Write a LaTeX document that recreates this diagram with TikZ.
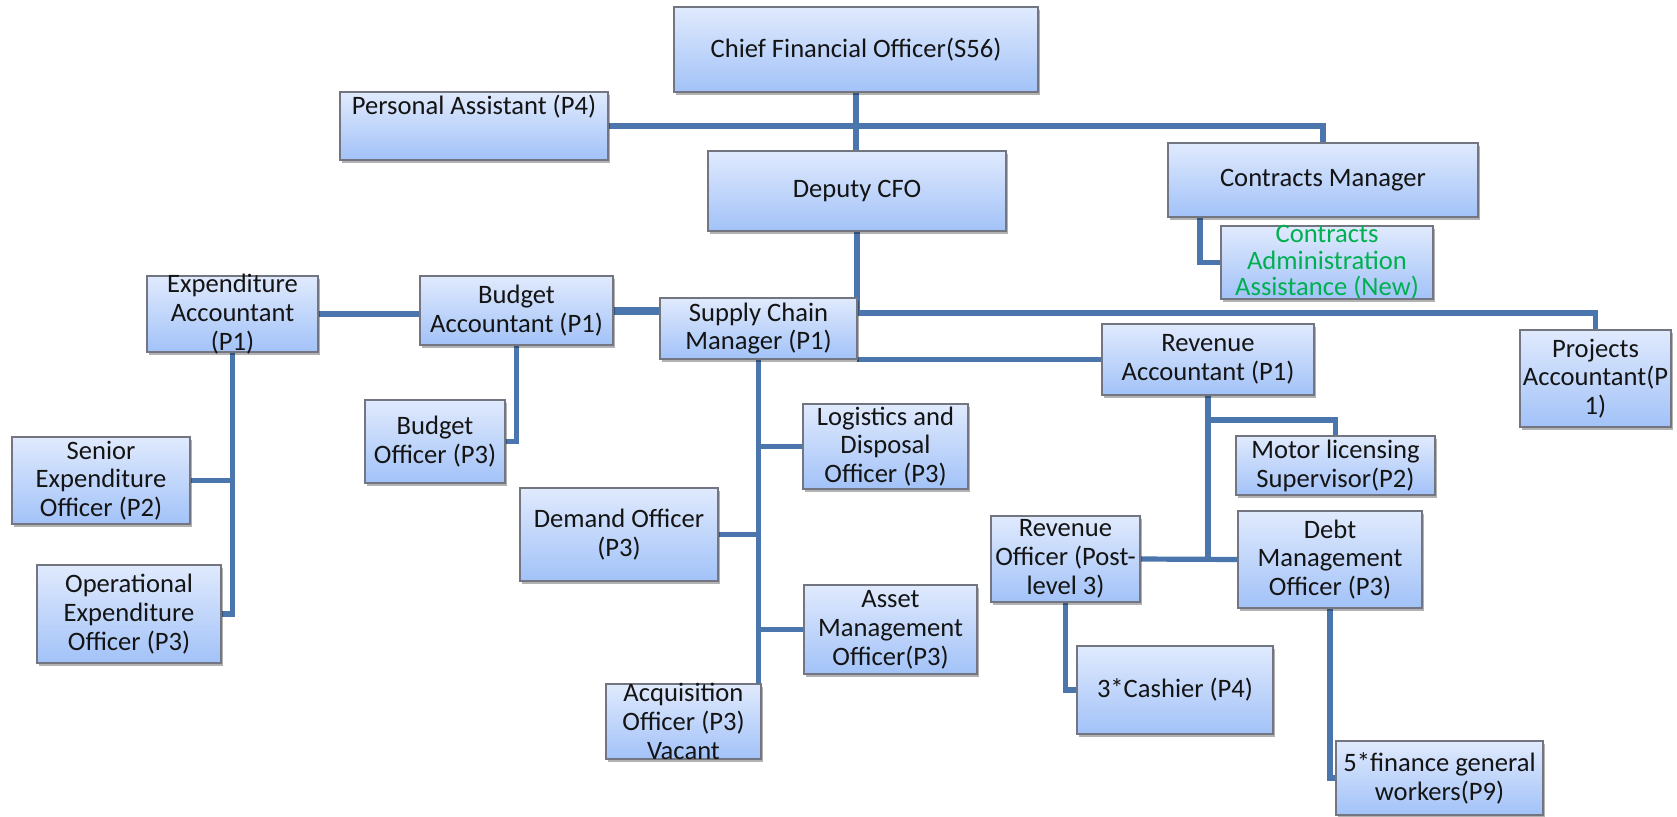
\documentclass[tikz,border=0pt]{standalone}
\usepackage{fontspec}
\setmainfont{Carlito}
\usetikzlibrary{shadows}
\definecolor{connc}{RGB}{74,118,173}
\definecolor{boxtop}{RGB}{224,234,253}
\definecolor{boxbot}{RGB}{162,194,248}
\definecolor{boxline}{RGB}{115,118,128}
\definecolor{newgreen}{RGB}{0,176,80}
\pgfdeclarelayer{background}
\pgfsetlayers{background,main}
\tikzset{
  box/.style={draw=boxline, line width=0.7pt, top color=boxtop, bottom color=boxbot,
    inner sep=0pt, outer sep=0pt,
    drop shadow={shadow xshift=1.2pt, shadow yshift=-1.5pt, fill=black, opacity=0.3}},
  txt/.style={align=center, inner sep=0pt, font=\fontsize{13.3}{14.4}\selectfont, text=black!92},
  conn/.style={draw=connc, line width=2.6pt},
  thickconn/.style={draw=connc, line width=4pt},
}
% name, x1, y1, x2, y2, text
\newcommand\orgbox[6]{%
  \node[box, minimum width={(#4-#2)*0.5pt}, minimum height={(#5-#3)*0.5pt}]
    (#1) at ({(#2+#4)/2},{(#3+#5)/2}) {};
  \node[txt] (#1t) at (#1.center) {#6};}
\begin{document}
\begin{tikzpicture}[x=0.5pt, y=-0.5pt]
\useasboundingbox (0,0) rectangle (1677,816);

\orgbox{cfo}{674}{7}{1038}{92}{Chief Financial Officer(S56)}
\node[box, minimum width={(608-340)*0.5pt}, minimum height={(160-92)*0.5pt}] (pa) at (474,126) {};
\node[txt, anchor=center] (pat) at (474,107) {Personal Assistant (P4)};
\orgbox{dep}{708}{151}{1006}{231}{Deputy CFO}
\orgbox{cm}{1168}{143}{1478}{217}{Contracts Manager}
\node[box, minimum width={(1433-1221)*0.5pt}, minimum height={(299-226)*0.5pt}] (ca) at (1327,262.5) {};
\node[txt, font=\fontsize{13.3}{13.3}\selectfont, text=newgreen] (cat) at (ca.center) {Contracts\\Administration\\Assistance (New)};
\orgbox{ea}{147}{276}{318}{352}{Expenditure\\Accountant\\(P1)}
\orgbox{ba}{420}{276}{613}{345}{Budget\\Accountant (P1)}
\orgbox{scm}{660}{298}{857}{359}{Supply Chain\\Manager (P1)}
\orgbox{ra}{1102}{324}{1314}{395}{Revenue\\Accountant (P1)}
\orgbox{pj}{1520}{330}{1671}{427}{Projects\\Accountant(P\\1)}
\orgbox{se}{12}{437}{190}{524}{Senior\\Expenditure\\Officer (P2)}
\orgbox{bo}{365}{400}{505}{483}{Budget\\Officer (P3)}
\orgbox{lg}{803}{404}{968}{489}{Logistics and\\Disposal\\Officer (P3)}
\orgbox{ml}{1236}{436}{1435}{495}{Motor licensing\\Supervisor(P2)}
\orgbox{dm}{520}{488}{718}{581}{Demand Officer\\(P3)}
\orgbox{ro}{991}{516}{1140}{602}{Revenue\\Officer (Post-\\level 3)}
\orgbox{dt}{1238}{511}{1422}{608}{Debt\\Management\\Officer (P3)}
\orgbox{oe}{37}{565}{221}{663}{Operational\\Expenditure\\Officer (P3)}
\orgbox{as}{804}{585}{977}{674}{Asset\\Management\\Officer(P3)}
\orgbox{cs}{1077}{646}{1273}{734}{3*Cashier (P4)}
\orgbox{acq}{606}{684}{761}{759}{Acquisition\\Officer (P3)\\Vacant}
\orgbox{fn}{1336}{741}{1543}{815}{5*finance general\\workers(P9)}

\coordinate (j1) at (856,313);
\coordinate (m1) at (1208,420);

\begin{pgfonlayer}{background}
  % top level
  \draw[conn] (cfo.south) -- (cfo.south |- dep.north);
  \draw[conn] (pa.east) -| (cm.north);
  \draw[conn] ([xshift=-10.5pt]ca.west |- cm.south) |- (ca.west);
  % deputy to supply chain row and projects
  \draw[conn] (dep.south) -- (dep.south |- j1) -| (pj.north);
  \draw[conn] (ra.west -| scm.east) -- (ra.west);
  \draw[thickconn] (ba.east) -- (ba.east -| scm.west);
  \draw[conn] (ea.east) -- (ea.east -| ba.west);
  % budget
  \draw[conn] (ba.south) |- (bo.east);
  % expenditure
  \draw[conn] (ea.south) |- (oe.east);
  \draw[conn] (se.east) -- (se.east -| ea.south);
  % supply chain
  \draw[conn] (scm.south) -- (scm.south |- acq.east);
  \draw[conn] (lg.west -| scm.south) -- (lg.west);
  \draw[conn] (dm.east) -- (dm.east -| scm.south);
  \draw[conn] (as.west -| scm.south) -- (as.west);
  % revenue
  \draw[conn] (ra.south) -- (ra.south |- ro.east);
  \draw[conn] (ro.east) -- (dt.west);
  \draw[conn] (ra.south |- m1) -| (ml.north);
  \draw[conn] (ro.south) |- (cs.west);
  \draw[conn] (dt.south) |- (fn.west);
\end{pgfonlayer}
\end{tikzpicture}
\end{document}
